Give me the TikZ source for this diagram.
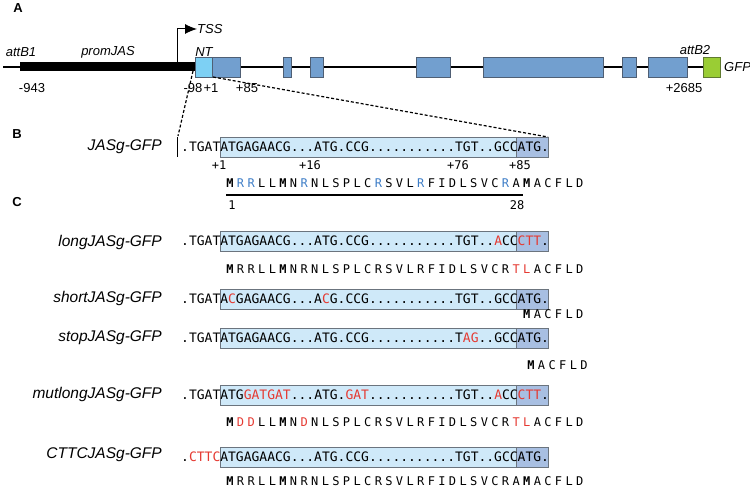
\documentclass[tikz,border=0pt]{standalone}
\usepackage{fontspec}
\setmainfont{Liberation Sans}
\newfontfamily\seqfont{DejaVu Sans Mono}
\usepackage{xcolor}
\usepackage{tikz}
\usetikzlibrary{arrows.meta}
\definecolor{exon}{HTML}{729FCF}
\definecolor{exonedge}{HTML}{4F5F74}
\definecolor{ntcol}{HTML}{7DD0F4}
\definecolor{seqfill}{HTML}{CFE9F9}
\definecolor{seqdark}{HTML}{A8BFE2}
\definecolor{boxedge}{HTML}{6B747E}
\definecolor{gfp}{HTML}{9ACD34}
\definecolor{gfpedge}{HTML}{5F7A30}
\definecolor{mut}{HTML}{E53A32}
\definecolor{arg}{HTML}{3C7CC6}
\tikzset{
  backbone/.style={draw=black, line width=1.2pt},
  exonbox/.style={fill=exon, draw=exonedge, line width=0.8pt},
  gfpbox/.style={fill=gfp, draw=gfpedge, line width=0.8pt},
  seqbox/.style={fill=seqfill, draw=boxedge, line width=0.8pt},
  seqdarkbox/.style={fill=seqdark, draw=boxedge, line width=0.8pt},
  zoomline/.style={draw=black, line width=1.2pt, dash pattern=on 3pt off 2pt},
  tssarrow/.style={draw=black, line width=1pt, -{Latex[length=12pt,width=10pt]}},
  panel/.style={inner sep=0pt, font=\bfseries\fontsize{13}{15}\selectfont},
  lab/.style={inner sep=0pt, font=\itshape\fontsize{13}{15}\selectfont},
  coord/.style={inner sep=0pt, font=\fontsize{13}{15}\selectfont},
  rowlab/.style={inner sep=0pt, anchor=east, font=\itshape\fontsize{15.5}{17}\selectfont},
  seq/.style={inner sep=0pt, anchor=west, font=\seqfont\fontsize{13}{15}\selectfont},
  aa/.style={inner sep=0pt, font=\seqfont\fontsize{12}{14}\selectfont},
  num/.style={inner sep=0pt, font=\seqfont\fontsize{12}{14}\selectfont}
}
\newcommand\rd[1]{\textcolor{mut}{#1}}
\newcommand\bM{{\bfseries M}}
\newcommand\bR{\textcolor{arg}{R}}
% one construct: light box, dark box, then the text over them
\newcommand\seqrow[5]{%
  \draw[seqbox] (220,#2-10) rectangle (516.4,#2+10);
  \draw[seqdarkbox] (516.4,#2-10) rectangle (548,#2+10);
  \node[seq] (#1) at (181,#2) {#3#4#5};
}
% amino acids, one letter every 10.6
\newcommand\aarow[4]{%
  \foreach \aa [count=\i from 0] in {#4}
    \node[aa] (#1-\i) at (#2+\i*10.6,#3) {\aa};
}

\begin{document}
\begin{tikzpicture}[x=1pt,y=-1pt]
  \useasboundingbox (0,0) rectangle (750,489);

  % A: gene model
  \node[panel] (pA) at (18,8) {A};
  \draw[backbone] (3,67) -- (703,67);
  \fill[black] (20,62.5) rectangle (195,71.5);
  \draw[exonbox, fill=ntcol] (195,57) rectangle (212,77);
  \foreach \a/\b in {212/240,283/291,310/323,416/450,483/603,622/636,648/687}
    \draw[exonbox] (\a,57) rectangle (\b,77);
  \draw[gfpbox] (703,57) rectangle (720,77);

  \node[lab, anchor=west] (tss) at (197,29) {TSS};
  \draw[tssarrow] (177,62) |- (tss.west);

  \node[lab] (attb1) at (21,52) {attB1};
  \node[lab] (prom) at (108,52) {promJAS};
  \node[lab] (nt) at (204,52) {NT};
  \node[lab] (attb2) at (695,50) {attB2};
  \node[lab, anchor=west] (gfp) at (724,67) {GFP};
  \node[coord] (p943) at (32,88) {-943};
  \node[coord] (p98) at (193,88) {-98};
  \node[coord] (p1) at (211,88) {+1};
  \node[coord] (p85) at (247,88) {+85};
  \node[coord] (p2685) at (684,88) {+2685};

  \coordinate (ntl) at (193,71);
  \coordinate (ntr) at (213,77);
  \coordinate (brl) at (178,136);
  \coordinate (brr) at (548,137);
  \draw[zoomline] (ntl) -- (brl);
  \draw[zoomline] (ntr) -- (brr);

  % B
  \node[panel] (pB) at (17,134) {B};
  \node[rowlab] (lab-jas) at (162,147) {JASg-GFP};
  \draw[line width=0.8pt] (177,137) -- (177,157);
  \seqrow{jas}{147}{.TGAT}{ATGAGAACG...ATG.CCG...........TGT..GCC}{ATG.}
  \node[num] (n1) at (219,165) {+1};
  \node[num] (n16) at (310,165) {+16};
  \node[num] (n76) at (458,165) {+76};
  \node[num] (n85) at (520,165) {+85};
  \aarow{jasaa}{230}{183}{\bM,\bR,\bR,L,L,\bM,N,\bR,N,L,S,P,L,C,\bR,S,V,L,\bR,F,I,D,L,S,V,C,\bR,A,\bM,A,C,F,L,D}
  \draw[line width=1.3pt] (226,195) -- (523,195);
  \node[num] (m1) at (232,205) {1};
  \node[num] (m28) at (517,205) {28};

  % C
  \node[panel] (pC) at (17,202) {C};
  \node[rowlab] (lab-long) at (162,242) {longJASg-GFP};
  \seqrow{long}{241}{.TGAT}{ATGAGAACG...ATG.CCG...........TGT..\rd{A}CC}{\rd{CTT}.}
  \aarow{longaa}{230}{269}{\bM,R,R,L,L,\bM,N,R,N,L,S,P,L,C,R,S,V,L,R,F,I,D,L,S,V,C,R,\rd{T},\rd{L},A,C,F,L,D}

  \node[rowlab] (lab-short) at (162,298) {shortJASg-GFP};
  \seqrow{short}{299}{.TGAT}{A\rd{C}GAGAACG...A\rd{C}G.CCG...........TGT..GCC}{ATG.}
  \aarow{shortaa}{526.8}{314}{\bM,A,C,F,L,D}

  \node[rowlab] (lab-stop) at (162,338) {stopJASg-GFP};
  \seqrow{stop}{338}{.TGAT}{ATGAGAACG...ATG.CCG...........T\rd{AG}..GCC}{ATG.}
  \aarow{stopaa}{531}{365}{\bM,A,C,F,L,D}

  \node[rowlab] (lab-mut) at (162,394) {mutlongJASg-GFP};
  \seqrow{mut}{395}{.TGAT}{ATG\rd{GATGAT}...ATG.\rd{GAT}...........TGT..\rd{A}CC}{\rd{CTT}.}
  \aarow{mutaa}{230}{422}{\bM,\rd{D},\rd{D},L,L,\bM,N,\rd{D},N,L,S,P,L,C,R,S,V,L,R,F,I,D,L,S,V,C,R,\rd{T},\rd{L},A,C,F,L,D}

  \node[rowlab] (lab-cttc) at (162,455) {CTTCJASg-GFP};
  \seqrow{cttc}{457}{.\rd{CTTC}}{ATGAGAACG...ATG.CCG...........TGT..GCC}{ATG.}
  \aarow{cttcaa}{230}{481}{\bM,R,R,L,L,\bM,N,R,N,L,S,P,L,C,R,S,V,L,R,F,I,D,L,S,V,C,R,A,\bM,A,C,F,L,D}
\end{tikzpicture}
\end{document}
